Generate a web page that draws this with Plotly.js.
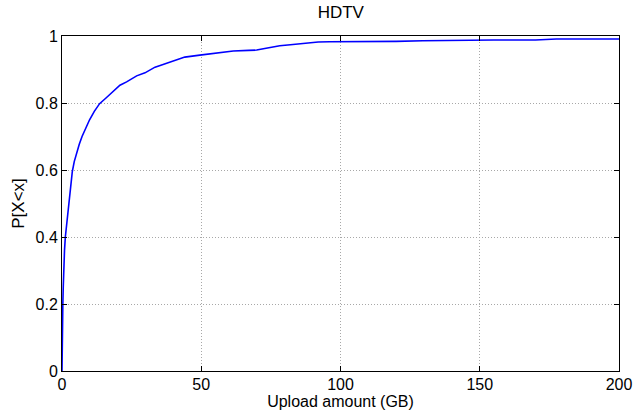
<!DOCTYPE html>
<html>
<head>
<meta charset="utf-8">
<script src="https://cdn.plot.ly/plotly-3.0.1.min.js"></script>
<style>html,body{margin:0;padding:0;background:#fff;}#chart{width:637px;height:411px;}</style>
</head>
<body>
<div id="chart"></div>
<script>
const uploadGB = [0, 0.03, 0.1, 0.2, 0.3, 0.45, 0.6, 0.9, 1.2, 1.8, 2.4, 3.0, 3.7, 4.4, 5.3, 6.2, 7.2, 8.5, 9.9, 11.6, 13.5, 15.8, 17.2, 19.0, 20.8, 23.2, 25.0, 26.8, 29.8, 31.5, 33.4, 35.5, 37.6, 41.2, 44.1, 49.5, 55.5, 61.5, 67.0, 69.9, 72.3, 75.0, 78.2, 82.0, 85.4, 88.0, 92.0, 96.0, 99.7, 110.0, 120.0, 129.6, 141.6, 155.0, 170.0, 177.5, 190.0, 200.0];
const cdf = [0, 0.05, 0.1, 0.16, 0.2, 0.25, 0.3, 0.36, 0.4, 0.45, 0.5, 0.55, 0.595, 0.625, 0.652, 0.677, 0.7, 0.725, 0.75, 0.775, 0.798, 0.815, 0.826, 0.84, 0.853, 0.863, 0.872, 0.881, 0.89, 0.898, 0.907, 0.913, 0.919, 0.93, 0.937, 0.943, 0.95, 0.955, 0.957, 0.958, 0.962, 0.966, 0.971, 0.974, 0.977, 0.98, 0.982, 0.983, 0.983, 0.983, 0.984, 0.986, 0.988, 0.988, 0.988, 0.991, 0.991, 0.991];
const xTicks = [0, 50, 100, 150, 200];
const yTicks = [0, 0.2, 0.4, 0.6, 0.8, 1];

const font = {family: 'Liberation Sans, Arial, sans-serif', size: 17, color: '#000'};
const labelFont = {family: 'Liberation Sans, Arial, sans-serif', size: 16, color: '#000'};
const tickFont = {family: 'Liberation Sans, Arial, sans-serif', size: 16, color: '#000'};

const trace = {
  x: uploadGB, y: cdf, type: 'scatter', mode: 'lines',
  line: {color: '#0000ff', width: 1.6},
  hoverinfo: 'skip'
};

const axisCommon = {
  showline: true, linecolor: '#000', linewidth: 1, mirror: 'ticks',
  ticks: 'inside', ticklen: 5, tickcolor: '#000', tickwidth: 1,
  showgrid: true, gridcolor: '#a8a8a8', griddash: '1px,2px', gridwidth: 1,
  zeroline: false, tickfont: tickFont
};

const layout = {
  width: 637, height: 411,
  margin: {l: 62, r: 18, t: 36, b: 40},
  paper_bgcolor: '#fff', plot_bgcolor: '#fff',
  showlegend: false,
  title: {text: 'HDTV', font: font, x: 0.535, xanchor: 'center', y: 0.97, yanchor: 'middle'},
  xaxis: Object.assign({}, axisCommon, {
    range: [0, 200], tickvals: xTicks, ticktext: xTicks.map(String), ticklabelstandoff: -1,
    title: {text: 'Upload amount (GB)', font: labelFont, standoff: 3}
  }),
  yaxis: Object.assign({}, axisCommon, {
    range: [0, 1], tickvals: yTicks, ticktext: yTicks.map(String),
    title: {text: 'P[X<x]', font: font, standoff: 6}
  })
};

Plotly.newPlot('chart', [trace], layout, {displayModeBar: false, staticPlot: true});
</script>
</body>
</html>
